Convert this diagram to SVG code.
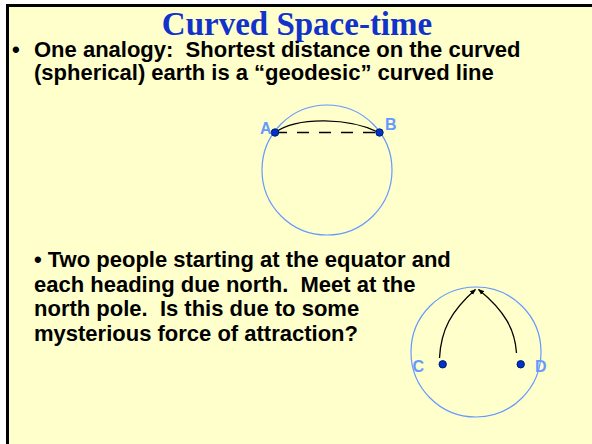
<svg xmlns="http://www.w3.org/2000/svg" width="592" height="444" viewBox="0 0 592 444">
<defs>
<style>
.body{font-family:"Liberation Sans",Arial,sans-serif;font-weight:bold;font-size:22px;fill:#000}
.lbl{font-family:"Liberation Sans",Arial,sans-serif;font-weight:bold;font-size:16px;fill:#6699FF}
.globe{fill:none;stroke:#6699FF;stroke-width:1.2}
.dot{fill:#0033CC;stroke:#001a66;stroke-width:1}
.path{fill:none;stroke:#000;stroke-width:1.3}
</style>
<marker id="arr" viewBox="0 0 10 10" refX="9" refY="5" markerWidth="6" markerHeight="6" orient="auto" markerUnits="userSpaceOnUse">
<path d="M0,1 L10,5 L0,9 Z" fill="#000"/>
</marker>
</defs>
<rect x="0" y="0" width="592" height="444" fill="#FFFFFF"/>
<rect x="7.5" y="5.5" width="600" height="460" fill="#FFFFCC" stroke="#000" stroke-width="3"/>
<g id="title">
<text x="297" y="35" text-anchor="middle" font-family="'Liberation Serif','Times New Roman',serif" font-weight="bold" font-size="33" fill="#1133CC">Curved Space-time</text>
</g>
<g id="text1">
<text class="body" x="12" y="57">•</text>
<text class="body" x="34" y="57" xml:space="preserve">One analogy:  Shortest distance on the curved</text>
<text class="body" x="34" y="80">(spherical) earth is a “geodesic” curved line</text>
</g>
<g id="text2">
<text class="body" x="34" y="267">• Two people starting at the equator and</text>
<text class="body" x="34" y="291.5" xml:space="preserve">each heading due north.  Meet at the</text>
<text class="body" x="34" y="316" xml:space="preserve">north pole.  Is this due to some</text>
<text class="body" x="34" y="340.5">mysterious force of attraction?</text>
</g>
<g id="globe1">
<circle class="globe" cx="327" cy="170" r="65"/>
</g>
<g id="globe2">
<circle class="globe" cx="476" cy="352" r="65"/>
</g>
<g id="connectors">
<path class="path" d="M275,132.5 C298,116 350,118 379,132.5"/>
<path class="path" d="M275,132.5 L379,132.5" stroke-dasharray="12 10"/>
<path class="path" d="M439.5,358 C441,330 451,311 475.5,289.5" stroke-width="1" marker-end="url(#arr)"/>
<path class="path" d="M516.5,353 C515,330 505,311 478.5,289.5" stroke-width="1" marker-end="url(#arr)"/>
</g>
<g id="A">
<circle class="dot" cx="275" cy="132.5" r="3.7"/>
<text class="lbl" x="260" y="134">A</text>
</g>
<g id="B">
<circle class="dot" cx="379.5" cy="132.5" r="3.7"/>
<text class="lbl" x="385" y="130">B</text>
</g>
<g id="C">
<circle class="dot" cx="442.7" cy="364.3" r="3.7"/>
<text class="lbl" x="412.5" y="372">C</text>
</g>
<g id="D">
<circle class="dot" cx="520.7" cy="364.3" r="3.7"/>
<text class="lbl" x="535" y="372">D</text>
</g>
</svg>
